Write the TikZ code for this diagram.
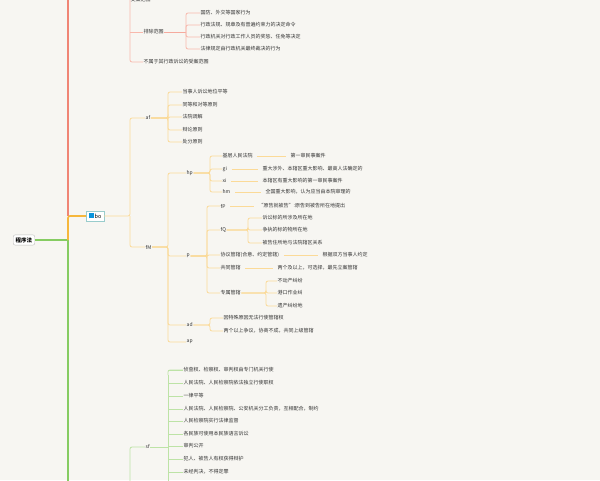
\documentclass[tikz,border=0pt]{standalone}
\usepackage{fontspec}
\setmainfont{Noto Sans CJK SC}
\begin{document}
\begin{tikzpicture}[x=1pt,y=-1pt,
  t/.style={anchor=west,inner sep=0.5pt,font=\fontsize{5}{6}\selectfont,text=black!80},
  rc/.style={draw=red!25!orange!30,line width=0.8pt,rounded corners=2pt},
  oc/.style={draw=orange!35!yellow!40,line width=0.8pt,rounded corners=2pt},
  gc/.style={draw=green!50!lime!35!gray!40,line width=0.8pt,rounded corners=2pt}]
\definecolor{bg}{HTML}{F7F6F2}
\definecolor{rm}{HTML}{F08575}
\definecolor{rl}{HTML}{F8B8AC}
\definecolor{om}{HTML}{F6B73C}
\definecolor{ol}{HTML}{FBDA98}
\definecolor{gm}{HTML}{86CC62}
\definecolor{gl}{HTML}{BDE3A6}
\tikzset{rc/.style={draw=rl,line width=0.8pt,rounded corners=2pt},
 oc/.style={draw=ol,line width=0.8pt,rounded corners=2pt},
 gc/.style={draw=gl,line width=0.8pt,rounded corners=2pt}}
\fill[bg] (0,0) rectangle (600,480);
\useasboundingbox (0,0) rectangle (600,480);
% trunk
\coordinate (rtop) at (68,-5);
\coordinate (gbot) at (68,485);
\coordinate (rb) at (130,-5);
\draw[rm,line width=1.6pt] (68,216) -- (rtop);
\draw[gm,line width=1.6pt] (68,240) -- (gbot);
\node[draw=gray!50,fill=white,rounded corners=2pt,inner sep=2.5pt,font=\fontsize{5.5}{6}\selectfont\bfseries] (root) at (24,240) {程序法};
\draw[gm,line width=1.6pt] (root.east) -- (68,240);
\node[draw=teal!40,fill=white,inner sep=2.5pt,font=\fontsize{5.5}{6}\selectfont,anchor=west] (bo) at (86,216) {\textcolor{cyan!80!blue}{\rule{5pt}{5pt}}\,bo};
\draw[om,line width=1.6pt,rounded corners=2pt] (68,240) -- (68,216) -- (bo.west);
% red branch
\node[t] (sa) at (130,0) {受案范围};
\node[t] (pc) at (143,32) {排除范围};
\node[t] (bs) at (143,62) {不属于其行政诉讼的受案范围};
\draw[rc] (rb) |- (bs.west);
\draw[rc] (130,32) -- (pc.west);
\draw[rc] (130,0) -- (sa.west);
\node[t] (p1) at (200,13) {国防、外交等国家行为};
\node[t] (p2) at (200,25) {行政法规、规章及有普遍约束力的决定命令};
\node[t] (p3) at (200,37) {行政机关对行政工作人员的奖惩、任免等决定};
\node[t] (p4) at (200,49) {法律规定由行政机关最终裁决的行为};
\draw[rm!70,line width=0.8pt] (pc.east) -- (186,32);
\foreach \i in {p1,p2,p3,p4}{\draw[rc] (186,32) |- (\i.west);}
% orange branch
\node[t] (af) at (145,118) {af};
\node[t] (fM) at (145,247) {fM};
\draw[oc] (bo.east) -- (130,216) |- (af.west);
\draw[oc] (130,216) |- (fM.west);
\foreach \n/\y/\s in {a1/92/当事人诉讼地位平等,a2/105/同等和对等原则,a3/117/法院调解,a4/130/辩论原则,a5/142/处分原则}{
  \node[t] (\n) at (182,\y) {\s};
  \draw[oc] (af.east) -- (168,118) |- (\n.west);}
\foreach \n/\y/\s in {hp/173/hp,pp/256/p,ad/325/ad,ap/342/ap}{
  \node[t] (\n) at (186,\y) {\s};
  \draw[oc] (fM.east) -- (168,247) |- (\n.west);}
% hp
\foreach \n/\y/\s/\l/\lx in {h1/156/基层人民法院/第一审民事案件/290,h2/169/gi/重大涉外、本辖区重大影响、最高人法确定的/262,h3/181/xi/本辖区有重大影响的第一审民事案件/262,h4/192/hm/全国重大影响，认为应当由本院审理的/265}{
  \node[t] (\n) at (222,\y) {\s};
  \draw[oc] (hp.east) -- (210,173) |- (\n.west);
  \node[t] (\n l) at (\lx,\y) {\l};
  \draw[oc] ([xshift=4pt]\n.east) -- ([xshift=-4pt]\n l.west);}
% p
\foreach \n/\y/\s in {q1/206/fP,q2/230/fQ,q3/255/协议管辖(合意、约定管辖),q4/268/共同管辖,q5/293/专属管辖}{
  \node[t] (\n) at (220,\y) {\s};
  \draw[oc] (pp.east) -- (207,256) |- (\n.west);}
\node[t] (q1l) at (258,206) {“原告就被告”:原告到被告所在地提出};
\draw[oc] ([xshift=4pt]q1.east) -- ([xshift=-4pt]q1l.west);
\foreach \n/\y/\s in {f1/218/诉讼标的所涉及所在地,f2/230/争执的标的物所在地,f3/243/被告住所地与法院辖区关系}{
  \node[t] (\n) at (262,\y) {\s};
  \draw[oc] (q2.east) -- (248,230) |- (\n.west);}
\node[t] (q3l) at (322,255) {根据双方当事人约定};
\draw[oc] ([xshift=4pt]q3.east) -- ([xshift=-4pt]q3l.west);
\node[t] (q4l) at (277,268) {两个及以上，可选择，最先立案管辖};
\draw[oc] ([xshift=4pt]q4.east) -- ([xshift=-4pt]q4l.west);
\foreach \n/\y/\s in {z1/281/不动产纠纷,z2/293/港口作业纠,z3/306/遗产纠纷地}{
  \node[t] (\n) at (277,\y) {\s};
  \draw[oc] (q5.east) -- (266,293) |- (\n.west);}
\foreach \n/\y/\s in {d1/318/因特殊原因无法行使管辖权,d2/331/两个以上争议，协商不成，共同上级管辖}{
  \node[t] (\n) at (223,\y) {\s};
  \draw[oc] (ad.east) -- (210,325) |- (\n.west);}
% green branch
\node[t] (sf) at (145,447) {sf};
\coordinate (gb2) at (130,485);
\draw[gc] (gb2) |- (sf.west);
\draw[gc] (68,482) -- (130,482);
\coordinate (sfb) at (168,485);
\draw[gc] (sf.east) -- (168,447);
\draw[gc] (sfb) -- (168,375);
\foreach \n/\y/\s in {s1/370/侦查权、检察权、审判权由专门机关行使,s2/383/人民法院、人民检察院依法独立行使职权,s3/396/一律平等,s4/409/人民法院、人民检察院、公安机关分工负责，互相配合，制约,s5/421/人民检察院实行法律监督,s6/434/各民族可使用本民族语言诉讼,s7/446/审判公开,s8/459/犯人、被告人有权获得辩护,s9/472/未经判决，不得定罪}{
  \node[t] (\n) at (183,\y) {\s};
  \draw[gc] (168,\y) -- (\n.west);}
\draw[gc] (168,375) |- (s1.west);
\end{tikzpicture}
\end{document}
